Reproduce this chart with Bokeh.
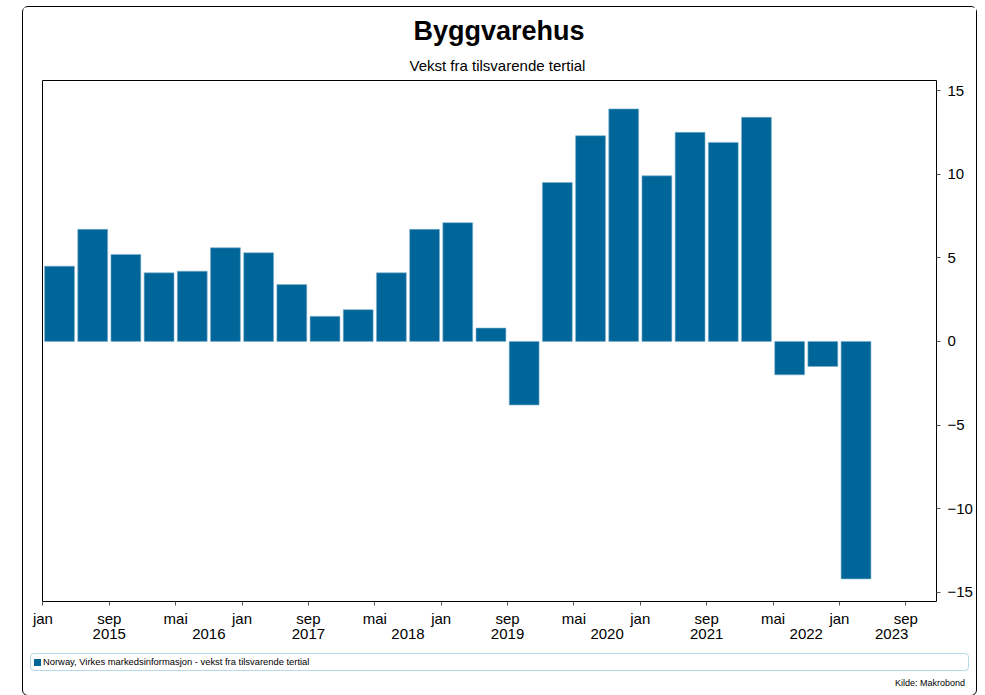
from bokeh.plotting import figure
from bokeh.models import (FixedTicker, LinearAxis, Range1d, Spacer, Title, Div)
from bokeh.layouts import row, column
from bokeh.embed import file_html
from bokeh.resources import INLINE

# ---- data ----
tertials = ["2015-T1", "2015-T2", "2015-T3", "2016-T1", "2016-T2", "2016-T3",
            "2017-T1", "2017-T2", "2017-T3", "2018-T1", "2018-T2", "2018-T3",
            "2019-T1", "2019-T2", "2019-T3", "2020-T1", "2020-T2", "2020-T3",
            "2021-T1", "2021-T2", "2021-T3", "2022-T1", "2022-T2", "2022-T3",
            "2023-T1"]
growth = [4.5, 6.7, 5.2, 4.1, 4.2, 5.6, 5.3, 3.4, 1.5, 1.9, 4.1, 6.7, 7.1,
          0.8, -3.8, 9.5, 12.3, 13.9, 9.9, 12.5, 11.9, 13.4, -2.0, -1.5, -14.2]

tick_dates = ["2015-01", "2015-09", "2016-05", "2017-01", "2017-09", "2018-05",
              "2019-01", "2019-09", "2020-05", "2021-01", "2021-09", "2022-05",
              "2023-01", "2023-09"]
month_names = {1: "jan", 5: "mai", 9: "sep"}
year_labels = ["2015", "2016", "2017", "2018", "2019", "2020", "2021", "2022", "2023"]
year_label_months = [8, 20, 32, 44, 56, 68, 80, 92, 102.3]
y_ticks = [-15, -10, -5, 0, 5, 10, 15]

title_text = "Byggvarehus"
subtitle_text = "Vekst fra tilsvarende tertial"
legend_text = "Norway, Virkes markedsinformasjon - vekst fra tilsvarende tertial"
source_text = "Kilde: Makrobond"

BAR = "#006699"
BAR_EDGE = "#7fb0cc"
FONT = "Liberation Sans"


def month_index(s):
    y, m = s.split("-")
    return (int(y) - 2015) * 12 + int(m) - 1


def tertial_center(s):
    y, t = s.split("-T")
    return (int(y) - 2015) * 12 + (int(t) - 1) * 4 + 2


x_centers = [tertial_center(t) for t in tertials]
tick_pos = [month_index(d) for d in tick_dates]
tick_labels = {month_index(d): month_names[int(d.split("-")[1])] for d in tick_dates}

# ---------------- main chart ----------------
p = figure(width=953, height=645, title=None,
           x_range=Range1d(-0.05, 107.7), y_range=Range1d(-15.55, 15.6),
           y_axis_location="right", output_backend="svg", toolbar_location=None,
           min_border_left=19, min_border_right=40, min_border_top=73, min_border_bottom=51)
p.grid.visible = False
p.outline_line_color = "black"
p.outline_line_width = 1
p.background_fill_color = "white"
p.border_fill_color = "white"

bars = p.vbar(x=x_centers, top=growth, bottom=0, width=3.6,
              fill_color=BAR, line_color=BAR_EDGE, line_width=0.6)

ya = p.yaxis[0]
ya.ticker = FixedTicker(ticks=y_ticks)
ya.axis_line_color = None
ya.major_tick_line_color = "#555555"
ya.major_tick_out = 4
ya.major_tick_in = 0
ya.minor_tick_line_color = None
ya.major_label_standoff = 7
ya.major_label_text_font = FONT
ya.major_label_text_font_size = "15px"
ya.major_label_text_color = "black"

xa = p.xaxis[0]
xa.ticker = FixedTicker(ticks=tick_pos)
xa.major_label_overrides = tick_labels
xa.axis_line_color = None
xa.major_tick_line_color = "#555555"
xa.major_tick_out = 4
xa.major_tick_in = 0
xa.minor_tick_line_color = None
xa.major_label_standoff = 4
xa.major_label_text_font = FONT
xa.major_label_text_font_size = "15px"
xa.major_label_text_color = "black"

yr = LinearAxis(ticker=FixedTicker(ticks=year_label_months),
                major_label_overrides={m: lab for m, lab in zip(year_label_months, year_labels)},
                axis_line_color=None, major_tick_line_color=None, minor_tick_line_color=None,
                major_tick_out=0, major_tick_in=0,
                major_label_standoff=-1, major_label_text_font=FONT,
                major_label_text_font_size="15px", major_label_text_color="black")
p.add_layout(yr, "below")

# titles (subtitle closest to frame)
p.add_layout(Title(text=subtitle_text, align="left", offset=367, standoff=13,
                   text_font=FONT, text_font_size="15px", text_font_style="normal",
                   text_color="black"), "above")
p.add_layout(Title(text=title_text, align="left", offset=371, standoff=6,
                   text_font=FONT, text_font_size="27px", text_font_style="bold",
                   text_color="black"), "above")

# ---------------- legend / source strip ----------------
strip_html = (
    f'<div style="position:relative;width:953px;height:43px;margin:0;padding:0;'
    f'font-family:\'{FONT}\',Arial,sans-serif;color:#000;">'
    f'<div style="position:absolute;left:7px;top:1px;width:939px;height:18px;'
    f'box-sizing:border-box;border:1px solid #b7d9e8;border-radius:4px;'
    f'background:#fff;white-space:nowrap;">'
    f'<span style="position:absolute;left:3px;top:5px;width:7px;height:7px;'
    f'background:{BAR};"></span>'
    f'<span style="position:absolute;left:12px;top:2px;font-size:9.4px;line-height:12px;">'
    f'{legend_text}</span></div>'
    f'<div style="position:absolute;right:11px;top:25px;font-size:9px;line-height:12px;'
    f'white-space:nowrap;">{source_text}</div>'
    f'</div>'
)
strip = Div(text=strip_html, width=953, height=43, margin=0,
            styles={"margin": "0", "padding": "0"})

box = column(p, strip, spacing=0,
             styles={"border": "1px solid #000000", "border-radius": "6px"})
layout = column(Spacer(width=10, height=6), row(Spacer(width=22, height=10), box))
open("out.html", "w").write(file_html(layout, INLINE))
